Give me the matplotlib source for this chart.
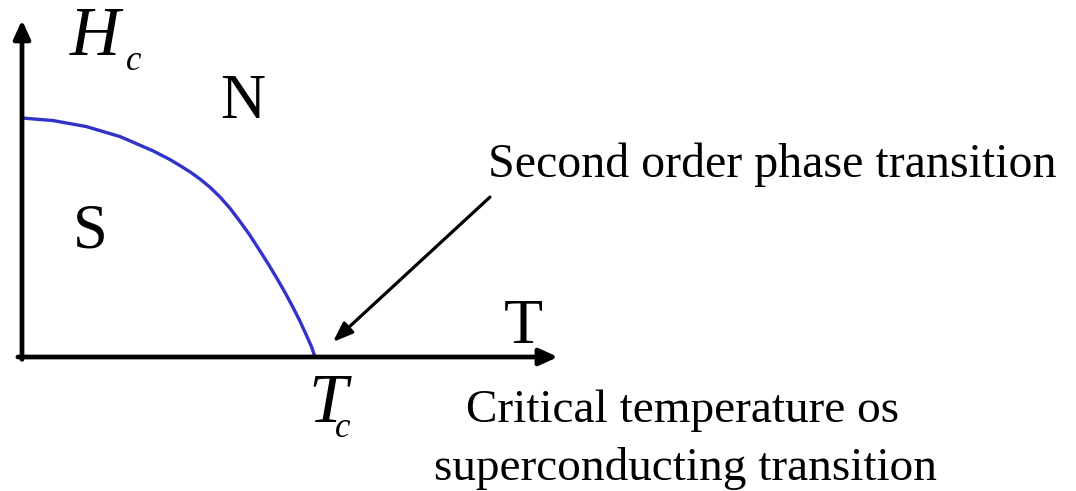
import numpy as np
import matplotlib.pyplot as plt

# critical field curve Hc(T), in units of Tc and Hc(0)
t_vals = [0.0, 0.107, 0.220, 0.335, 0.448, 0.505, 0.539, 0.573, 0.608, 0.642, 0.676, 0.710,
          0.744, 0.778, 0.812, 0.841, 0.869, 0.898, 0.926, 0.949, 0.971, 0.989, 1.0]
hc_vals = [1.0, 0.989, 0.964, 0.922, 0.862, 0.826, 0.801, 0.775, 0.744, 0.710, 0.669, 0.622,
           0.567, 0.509, 0.444, 0.388, 0.331, 0.269, 0.205, 0.149, 0.090, 0.040, 0.0]

serif = ['Liberation Serif', 'DejaVu Serif']

fig = plt.figure(figsize=(10.76, 4.91), dpi=100)
ax = fig.add_axes([0, 0, 1, 1])
ax.set_xlim(-0.0751, 3.597)
ax.set_ylim(-0.5607, 1.4937)
ax.axis('off')

# axes with arrows
ax.annotate('', xy=(0, 1.41), xytext=(0, -0.01),
            arrowprops=dict(arrowstyle='-|>,head_length=1.1,head_width=0.5', lw=3.4, color='black',
                            shrinkA=0, shrinkB=0))
ax.annotate('', xy=(1.829, 0), xytext=(-0.014, 0),
            arrowprops=dict(arrowstyle='-|>,head_length=1.1,head_width=0.5', lw=3.4, color='black',
                            shrinkA=0, shrinkB=0))

ax.plot(t_vals, hc_vals, color='#3333CC', lw=2.4, solid_joinstyle='round', solid_capstyle='butt')

# pointer to Tc
ax.annotate('', xy=(1.061, 0.063), xytext=(1.597, 0.669),
            arrowprops=dict(arrowstyle='-|>,head_length=1.2,head_width=0.45', lw=2.3, color='black',
                            shrinkA=0, shrinkB=0))

ax.text(0.250, 1.264, 'H', fontsize=50, style='italic', family=serif,
        ha='center', va='baseline')
ax.text(0.381, 1.201, 'c', fontsize=25, style='italic', family=serif,
        ha='center', va='baseline')
ax.text(0.754, 1.0, 'N', fontsize=45, family=serif, ha='center', va='baseline')
ax.text(0.232, 0.460, 'S', fontsize=45, family=serif, ha='center', va='baseline')
ax.text(1.710, 0.059, 'T', fontsize=46, family=serif, ha='center', va='baseline')
ax.text(1.044, -0.272, 'T', fontsize=50, style='italic', family=serif,
        ha='center', va='baseline')
ax.text(1.095, -0.335, 'c', fontsize=25, style='italic', family=serif,
        ha='center', va='baseline')

ax.text(1.590, 0.753, 'Second order phase transition', fontsize=34.5, family=serif,
        ha='left', va='baseline')
ax.text(2.256, -0.272, 'Critical temperature os', fontsize=34, family=serif,
        ha='center', va='baseline')
ax.text(2.263, -0.515, 'superconducting transition', fontsize=34, family=serif,
        ha='center', va='baseline')

fig.savefig('out.png', dpi=100)
